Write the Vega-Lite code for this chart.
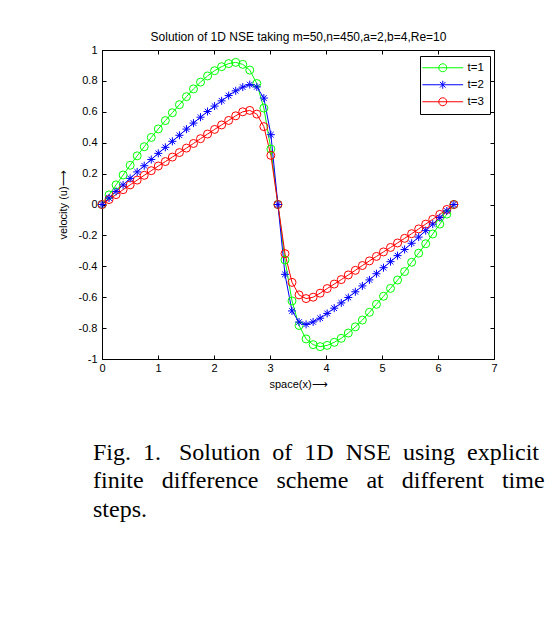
{
  "$schema": "https://vega.github.io/schema/vega-lite/v6.json",
  "autosize": {"type": "none"},
  "padding": {"left": 102, "top": 50, "right": 63, "bottom": 274},
  "width": 392,
  "height": 309,
  "background": "white",
  "title": {
    "text": ["Fig.\u00a0 1.\u00a0\u00a0 Solution\u00a0 of\u00a0 1D\u00a0 NSE\u00a0 using\u00a0 explicit", "finite\u00a0\u00a0 difference\u00a0\u00a0 scheme\u00a0\u00a0 at\u00a0\u00a0 different\u00a0\u00a0 time", "steps."],
    "orient": "bottom",
    "anchor": "start",
    "frame": "group",
    "font": "Liberation Serif",
    "fontSize": 24,
    "fontWeight": "normal",
    "color": "black",
    "lineHeight": 28.3,
    "offset": 52,
    "dx": -9
  },
  "datasets": {
    "sol": [
      {"x": 0, "t=1": 0, "t=2": 0, "t=3": 0},
      {"x": 0.1257, "t=1": 0.062, "t=2": 0.042, "t=3": 0.032},
      {"x": 0.2513, "t=1": 0.127, "t=2": 0.085, "t=3": 0.064},
      {"x": 0.377, "t=1": 0.191, "t=2": 0.127, "t=3": 0.096},
      {"x": 0.5027, "t=1": 0.254, "t=2": 0.169, "t=3": 0.127},
      {"x": 0.6283, "t=1": 0.315, "t=2": 0.211, "t=3": 0.158},
      {"x": 0.754, "t=1": 0.374, "t=2": 0.251, "t=3": 0.189},
      {"x": 0.8796, "t=1": 0.434, "t=2": 0.291, "t=3": 0.219},
      {"x": 1.0053, "t=1": 0.489, "t=2": 0.331, "t=3": 0.249},
      {"x": 1.131, "t=1": 0.543, "t=2": 0.37, "t=3": 0.278},
      {"x": 1.2566, "t=1": 0.594, "t=2": 0.409, "t=3": 0.307},
      {"x": 1.3823, "t=1": 0.646, "t=2": 0.448, "t=3": 0.336},
      {"x": 1.508, "t=1": 0.698, "t=2": 0.488, "t=3": 0.365},
      {"x": 1.6336, "t=1": 0.748, "t=2": 0.527, "t=3": 0.395},
      {"x": 1.7593, "t=1": 0.792, "t=2": 0.565, "t=3": 0.426},
      {"x": 1.885, "t=1": 0.832, "t=2": 0.602, "t=3": 0.456},
      {"x": 2.0106, "t=1": 0.866, "t=2": 0.637, "t=3": 0.486},
      {"x": 2.1363, "t=1": 0.892, "t=2": 0.671, "t=3": 0.515},
      {"x": 2.2619, "t=1": 0.912, "t=2": 0.705, "t=3": 0.544},
      {"x": 2.3876, "t=1": 0.92, "t=2": 0.736, "t=3": 0.574},
      {"x": 2.5133, "t=1": 0.907, "t=2": 0.76, "t=3": 0.6},
      {"x": 2.6389, "t=1": 0.87, "t=2": 0.776, "t=3": 0.609},
      {"x": 2.7646, "t=1": 0.783, "t=2": 0.761, "t=3": 0.585},
      {"x": 2.8903, "t=1": 0.624, "t=2": 0.689, "t=3": 0.504},
      {"x": 3.0159, "t=1": 0.359, "t=2": 0.452, "t=3": 0.318},
      {"x": 3.1416, "t=1": 0, "t=2": 0, "t=3": 0},
      {"x": 3.2673, "t=1": -0.359, "t=2": -0.452, "t=3": -0.318},
      {"x": 3.3929, "t=1": -0.624, "t=2": -0.689, "t=3": -0.504},
      {"x": 3.5186, "t=1": -0.783, "t=2": -0.761, "t=3": -0.585},
      {"x": 3.6442, "t=1": -0.87, "t=2": -0.776, "t=3": -0.609},
      {"x": 3.7699, "t=1": -0.907, "t=2": -0.76, "t=3": -0.6},
      {"x": 3.8956, "t=1": -0.92, "t=2": -0.736, "t=3": -0.574},
      {"x": 4.0212, "t=1": -0.912, "t=2": -0.705, "t=3": -0.544},
      {"x": 4.1469, "t=1": -0.892, "t=2": -0.671, "t=3": -0.515},
      {"x": 4.2726, "t=1": -0.866, "t=2": -0.637, "t=3": -0.486},
      {"x": 4.3982, "t=1": -0.832, "t=2": -0.602, "t=3": -0.456},
      {"x": 4.5239, "t=1": -0.792, "t=2": -0.565, "t=3": -0.426},
      {"x": 4.6496, "t=1": -0.748, "t=2": -0.527, "t=3": -0.395},
      {"x": 4.7752, "t=1": -0.698, "t=2": -0.488, "t=3": -0.365},
      {"x": 4.9009, "t=1": -0.646, "t=2": -0.448, "t=3": -0.336},
      {"x": 5.0265, "t=1": -0.594, "t=2": -0.409, "t=3": -0.307},
      {"x": 5.1522, "t=1": -0.543, "t=2": -0.37, "t=3": -0.278},
      {"x": 5.2779, "t=1": -0.489, "t=2": -0.331, "t=3": -0.249},
      {"x": 5.4035, "t=1": -0.434, "t=2": -0.291, "t=3": -0.219},
      {"x": 5.5292, "t=1": -0.374, "t=2": -0.251, "t=3": -0.189},
      {"x": 5.6549, "t=1": -0.315, "t=2": -0.211, "t=3": -0.158},
      {"x": 5.7805, "t=1": -0.254, "t=2": -0.169, "t=3": -0.127},
      {"x": 5.9062, "t=1": -0.191, "t=2": -0.127, "t=3": -0.096},
      {"x": 6.0319, "t=1": -0.127, "t=2": -0.085, "t=3": -0.064},
      {"x": 6.1575, "t=1": -0.062, "t=2": -0.042, "t=3": -0.032},
      {"x": 6.2832, "t=1": 0, "t=2": 0, "t=3": 0}
    ]
  },
  "data": {"name": "sol"},
  "transform": [{"fold": ["t=1", "t=2", "t=3"], "as": ["t", "u"]}],
  "layer": [
    {
      "mark": {"type": "line", "strokeWidth": 1},
      "encoding": {
        "x": {
          "field": "x", "type": "quantitative",
          "scale": {"domain": [0, 7], "nice": false, "zero": false},
          "axis": {"orient": "bottom", "values": [0, 1, 2, 3, 4, 5, 6, 7], "title": "space(x)⟶", "titlePadding": 5, "labelPadding": 7}
        },
        "y": {
          "field": "u", "type": "quantitative",
          "scale": {"domain": [-1, 1], "nice": false},
          "axis": {"orient": "left", "values": [-1, -0.8, -0.6, -0.4, -0.2, 0, 0.2, 0.4, 0.6, 0.8, 1], "title": "velocity (u)⟶", "labelExpr": "replace(format(datum.value, '~g'), '\u2212', '-')", "labelPadding": 9, "titlePadding": 10}
        },
        "color": {
          "field": "t", "type": "nominal",
          "scale": {"domain": ["t=1", "t=2", "t=3"], "range": ["#00ff00", "#0000ff", "#ff0000"]},
          "legend": {
            "orient": "none",
            "legendX": 318,
            "legendY": 6,
            "title": null,
            "strokeColor": "black",
            "fillColor": "white",
            "padding": 6,
            "symbolSize": 64,
            "symbolOffset": 11,
            "labelOffset": 19,
            "rowPadding": 4,
            "labelFont": "Liberation Sans",
            "labelFontSize": 11.5,
            "labelColor": "black",
            "encode": {
              "symbols": {
                "update": {
                  "shape": {"signal": "datum.value === 't=2' ? 'M-5.1,0H5.1M0,-1V1M-0.7,-0.7L0.7,0.7M-0.7,0.7L0.7,-0.7' : 'M-5.1,0H5.1M1,0A1,1 0 1,1 -1,0A1,1 0 1,1 1,0'"},
                  "fill": {"value": "transparent"},
                  "strokeWidth": {"value": 1},
                  "opacity": {"value": 1}
                }
              }
            }
          }
        }
      }
    },
    {
      "transform": [{"filter": "datum.t !== 't=2'"}],
      "mark": {"type": "point", "shape": "circle", "filled": false, "strokeWidth": 1, "size": 64, "opacity": 1},
      "encoding": {
        "x": {
          "field": "x", "type": "quantitative",
          "axis": {"orient": "top", "values": [0, 1, 2, 3, 4, 5, 6, 7], "labels": false, "title": "Solution of 1D NSE taking m=50,n=450,a=2,b=4,Re=10", "titlePadding": 6, "titleFontSize": 12}
        },
        "y": {
          "field": "u", "type": "quantitative",
          "axis": {"orient": "right", "values": [-1, -0.8, -0.6, -0.4, -0.2, 0, 0.2, 0.4, 0.6, 0.8, 1], "labels": false, "title": null}
        },
        "color": {"field": "t", "type": "nominal"}
      }
    },
    {
      "transform": [{"filter": "datum.t === 't=2'"}],
      "mark": {"type": "point", "shape": "M-1,0H1M0,-1V1M-0.7,-0.7L0.7,0.7M-0.7,0.7L0.7,-0.7", "filled": false, "strokeWidth": 1, "size": 64, "opacity": 1},
      "encoding": {
        "x": {"field": "x", "type": "quantitative", "axis": null},
        "y": {"field": "u", "type": "quantitative", "axis": null},
        "color": {"field": "t", "type": "nominal"}
      }
    }
  ],
  "resolve": {"axis": {"x": "independent", "y": "independent"}},
  "config": {
    "view": {"stroke": "black", "strokeWidth": 1},
    "axis": {
      "grid": false,
      "domainColor": "black",
      "domainWidth": 1,
      "tickColor": "black",
      "tickWidth": 1,
      "tickSize": -4,
      "labelFont": "Liberation Sans",
      "labelFontSize": 11,
      "labelColor": "black",
      "labelFlush": false,
      "labelOverlap": false,
      "titleFont": "Liberation Sans",
      "titleFontSize": 11,
      "titleFontWeight": "normal",
      "titleColor": "black"
    }
  }
}
